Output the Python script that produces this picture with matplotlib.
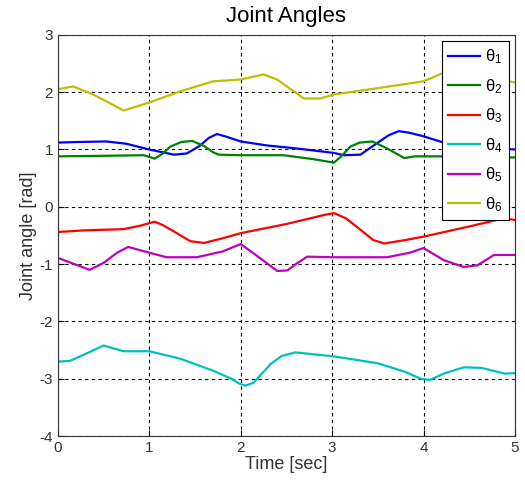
import matplotlib
matplotlib.use("Agg")
import matplotlib.pyplot as plt

plt.rcParams['font.family'] = ['Liberation Sans', 'DejaVu Sans']
plt.rcParams['mathtext.fontset'] = 'custom'
plt.rcParams['mathtext.rm'] = 'Liberation Sans'
plt.rcParams['mathtext.it'] = 'Liberation Sans'
plt.rcParams['axes.unicode_minus'] = False

# joint angle traces (time [s], angle [rad])
t1 = [0, 0.2, 0.53, 0.75, 1.0, 1.15, 1.27, 1.41, 1.55, 1.65, 1.74, 1.85, 2.0, 2.29, 2.6, 3.02, 3.13, 3.31, 3.5, 3.62, 3.73, 3.85, 4.0, 4.22, 4.5, 4.8, 5.0]
th1 = [1.12, 1.13, 1.14, 1.1, 1.0, 0.95, 0.91, 0.93, 1.06, 1.2, 1.27, 1.22, 1.14, 1.07, 1.02, 0.94, 0.9, 0.91, 1.12, 1.25, 1.32, 1.29, 1.23, 1.12, 1.07, 1.02, 1.0]

t2 = [0, 0.5, 0.94, 1.06, 1.15, 1.23, 1.35, 1.47, 1.6, 1.7, 1.76, 2.0, 2.47, 2.8, 3.02, 3.1, 3.2, 3.3, 3.44, 3.6, 3.79, 3.9, 4.5, 5.0]
th2 = [0.88, 0.89, 0.9, 0.84, 0.93, 1.05, 1.13, 1.15, 1.06, 0.95, 0.91, 0.9, 0.9, 0.83, 0.77, 0.88, 1.05, 1.12, 1.14, 1.02, 0.85, 0.88, 0.88, 0.86]

t3 = [0, 0.3, 0.72, 0.9, 1.06, 1.15, 1.27, 1.45, 1.6, 1.8, 2.0, 2.5, 2.92, 3.02, 3.15, 3.31, 3.45, 3.57, 3.8, 4.0, 4.48, 4.88, 5.0]
th3 = [-0.44, -0.41, -0.39, -0.33, -0.26, -0.32, -0.43, -0.6, -0.63, -0.55, -0.46, -0.3, -0.14, -0.11, -0.2, -0.4, -0.58, -0.64, -0.58, -0.52, -0.35, -0.2, -0.23]

t4 = [0, 0.13, 0.3, 0.5, 0.72, 1.0, 1.34, 1.7, 1.9, 1.98, 2.05, 2.14, 2.33, 2.45, 2.6, 3.02, 3.5, 3.8, 3.97, 4.07, 4.22, 4.44, 4.63, 4.89, 5.0]
th4 = [-2.7, -2.69, -2.57, -2.42, -2.52, -2.52, -2.65, -2.86, -3.0, -3.08, -3.12, -3.07, -2.74, -2.6, -2.54, -2.61, -2.73, -2.88, -3.0, -3.02, -2.91, -2.8, -2.81, -2.91, -2.9]

t5 = [0, 0.15, 0.35, 0.5, 0.65, 0.77, 1.0, 1.19, 1.52, 1.8, 2.0, 2.14, 2.4, 2.51, 2.62, 2.73, 3.02, 3.6, 3.85, 4.0, 4.22, 4.44, 4.59, 4.77, 5.0]
th5 = [-0.89, -0.98, -1.1, -0.98, -0.8, -0.7, -0.8, -0.88, -0.88, -0.78, -0.65, -0.81, -1.12, -1.11, -0.98, -0.87, -0.88, -0.88, -0.8, -0.72, -0.93, -1.05, -1.02, -0.84, -0.84]

t6 = [0, 0.17, 0.4, 0.72, 1.0, 1.35, 1.7, 2.0, 2.25, 2.4, 2.55, 2.69, 2.87, 3.02, 3.5, 4.0, 4.22, 4.45, 4.7, 5.0]
th6 = [2.05, 2.1, 1.95, 1.68, 1.82, 2.02, 2.19, 2.22, 2.31, 2.22, 2.05, 1.89, 1.89, 1.96, 2.07, 2.19, 2.34, 2.38, 2.25, 2.17]

times = [t1, t2, t3, t4, t5, t6]
angles = [th1, th2, th3, th4, th5, th6]
labels = [r'$\theta_{%d}$' % (i + 1) for i in range(6)]
colors = [(0, 0, 1), (0, 0.5, 0), (1, 0, 0), (0, 0.75, 0.75), (0.75, 0, 0.75), (0.75, 0.75, 0)]

fig = plt.figure(figsize=(5.25, 4.84), dpi=100)
ax = fig.add_axes([0.110, 0.099, 0.871, 0.829])

for t, th, lab, c in zip(times, angles, labels, colors):
    ax.plot(t, th, color=c, linewidth=1.6, label=lab)

ax.set_xlim(0, 5)
ax.set_ylim(-4, 3)
ax.set_xticks(range(0, 6))
ax.set_yticks(range(-4, 4))
ax.grid(True, color='black', linestyle=(0, (3, 3)), linewidth=0.8)
ax.tick_params(direction='in', labelsize=11, length=4, labelcolor='#333333')
for s in ax.spines.values():
    s.set_linewidth(0.8)
    s.set_color('#333333')

ax.set_title('Joint Angles', fontsize=16, pad=9)
ax.set_xlabel('Time [sec]', fontsize=13, labelpad=1, color='#333333')
ax.set_ylabel('Joint angle [rad]', fontsize=13, labelpad=2, color='#333333')

leg = ax.legend(loc='upper right', fontsize=12, fancybox=False, framealpha=1,
                edgecolor='black', handlelength=1.9, labelspacing=0.65,
                borderaxespad=0.35, handletextpad=0.3)
leg.get_frame().set_linewidth(0.8)

fig.savefig('out.png', dpi=100)
